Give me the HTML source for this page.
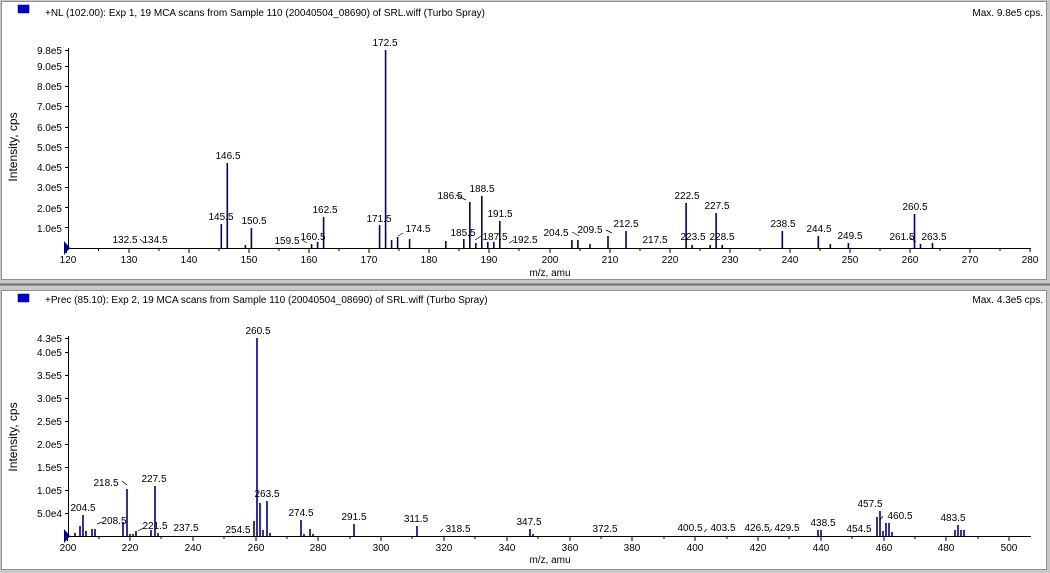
<!DOCTYPE html>
<html><head><meta charset="utf-8"><style>
html,body{margin:0;padding:0;background:#c0c0c0;}
svg{display:block;font-family:"Liberation Sans",Arial,sans-serif;}
</style></head><body>
<svg width="1050" height="573" xmlns="http://www.w3.org/2000/svg">
<rect x="0" y="0" width="1050" height="573" fill="#c8c8c8"/>
<line x1="0" y1="284.5" x2="1050" y2="284.5" stroke="#707070" stroke-width="2"/>
<rect x="1.5" y="1.5" width="1045" height="278" fill="#fff" stroke="#909090"/>
<rect x="1.5" y="290.5" width="1045" height="279" fill="#fff" stroke="#909090"/>

<!-- ===== TOP PANEL ===== -->
<rect x="18" y="5" width="11" height="8" fill="#0000c8" stroke="#000060" stroke-width="0.5"/>
<text x="45" y="16" font-size="10">+NL (102.00): Exp 1, 19 MCA scans from Sample 110 (20040504_08690) of SRL.wiff (Turbo Spray)</text>
<text x="1043" y="16" font-size="10" text-anchor="end">Max. 9.8e5 cps.</text>
<text transform="translate(17,147) rotate(-90)" font-size="12" text-anchor="middle">Intensity, cps</text>
<text x="550" y="276" font-size="10" text-anchor="middle">m/z, amu</text>
<g stroke="#000" stroke-width="1">
<line x1="68.5" y1="48" x2="68.5" y2="248"/>
<line x1="68" y1="248.5" x2="1031" y2="248.5"/>
</g>
<polygon points="64,241 70,248 64,255" fill="#000080"/>
<g font-size="10" text-anchor="end">
<text x="62" y="54">9.8e5</text><text x="62" y="70">9.0e5</text><text x="62" y="90">8.0e5</text>
<text x="62" y="110">7.0e5</text><text x="62" y="131">6.0e5</text><text x="62" y="151">5.0e5</text>
<text x="62" y="171">4.0e5</text><text x="62" y="191">3.0e5</text><text x="62" y="212">2.0e5</text>
<text x="62" y="232">1.0e5</text>
</g>
<g stroke="#000">
<path d="M65 50.5h4M65 66.5h4M65 86.5h4M65 106.5h4M65 127.5h4M65 147.5h4M65 167.5h4M65 187.5h4M65 207.5h4M65 227.5h4"/>
<path d="M66.5 248v5M129 248v5M189 248v5M249 248v5M309 248v5M369 248v5M429 248v5M489 248v5M550 248v5M610 248v5M670 248v5M730 248v5M790 248v5M850 248v5M910 248v5M970 248v5M1030 248v4"/>
<path d="M98.5 248v3M159 248v3M219 248v3M279 248v3M339 248v3M399 248v3M459 248v3M519 248v3M580 248v3M640 248v3M700 248v3M760 248v3M820 248v3M880 248v3M940 248v3M1000 248v3"/>
</g>
<g font-size="10" text-anchor="middle">
<text x="68" y="263">120</text><text x="129" y="263">130</text><text x="189" y="263">140</text><text x="249" y="263">150</text>
<text x="309" y="263">160</text><text x="369" y="263">170</text><text x="429" y="263">180</text><text x="489" y="263">190</text>
<text x="550" y="263">200</text><text x="610" y="263">210</text><text x="670" y="263">220</text><text x="730" y="263">230</text>
<text x="790" y="263">240</text><text x="850" y="263">250</text><text x="910" y="263">260</text><text x="970" y="263">270</text>
<text x="1030" y="263">280</text>
</g>
<g stroke="#000080" stroke-width="1.6">
<path d="M221.3 248V224M227.3 248V163M245.4 248V245M251.4 248V228M311.6 248V244M317.6 248V242M323.6 248V217M379.6 248V225M385.6 248V50M391.6 248V240M397.6 248V237M409.6 248V239M445.8 248V241M463.8 248V239M469.8 248V202M475.8 248V243M481.8 248V196M487.8 248V242M493.8 248V242M499.8 248V221M571.9 248V240M577.9 248V240M590 248V244M608 248V236M626 248V231M686.1 248V203M692.1 248V245M710.1 248V245M716.1 248V213M722.2 248V245M782.3 248V231M818.3 248V236M830.3 248V244M848.4 248V243M914.5 248V214M920.5 248V244M932.5 248V243"/>
</g>
<g font-size="10" text-anchor="middle">
<text x="221" y="220">145.5</text><text x="228" y="159">146.5</text><text x="254" y="224">150.5</text>
<text x="325" y="213">162.5</text><text x="379" y="222">171.5</text><text x="385" y="46">172.5</text>
<text x="418" y="232">174.5</text><text x="463" y="236">185.5</text><text x="450" y="199">186.5</text>
<text x="482" y="192">188.5</text><text x="500" y="217">191.5</text><text x="495" y="240">187.5</text>
<text x="525" y="243">192.5</text><text x="556" y="236">204.5</text><text x="590" y="233">209.5</text>
<text x="626" y="227">212.5</text><text x="655" y="243">217.5</text><text x="687" y="199">222.5</text>
<text x="693" y="240">223.5</text><text x="717" y="209">227.5</text><text x="722" y="240">228.5</text>
<text x="783" y="227">238.5</text><text x="819" y="232">244.5</text><text x="850" y="239">249.5</text>
<text x="915" y="210">260.5</text><text x="902" y="240">261.5</text><text x="934" y="240">263.5</text>
<text x="125" y="243">132.5</text><text x="155" y="243">134.5</text><text x="287" y="244">159.5</text><text x="313" y="240">160.5</text>
</g>
<g stroke="#000" stroke-width="0.7" fill="none">
<path d="M140 239l4 4M302 240l5 3M398 236l5-3M456 195l10 5M481 236l-6 4M509 243l5-3M572 232l7 4M606 230l6 3M909 237l7 5"/>
</g>

<!-- ===== BOTTOM PANEL ===== -->
<rect x="18" y="294" width="11" height="8" fill="#0000c8" stroke="#000060" stroke-width="0.5"/>
<text x="45" y="303" font-size="10">+Prec (85.10): Exp 2, 19 MCA scans from Sample 110 (20040504_08690) of SRL.wiff (Turbo Spray)</text>
<text x="1043" y="303" font-size="10" text-anchor="end">Max. 4.3e5 cps.</text>
<text transform="translate(17,437) rotate(-90)" font-size="12" text-anchor="middle">Intensity, cps</text>
<text x="550" y="563" font-size="10" text-anchor="middle">m/z, amu</text>
<g stroke="#000" stroke-width="1">
<line x1="68.5" y1="336" x2="68.5" y2="536"/>
<line x1="68" y1="536.5" x2="1031" y2="536.5"/>
</g>
<polygon points="64,529 70,536 64,543" fill="#000080"/>
<g font-size="10" text-anchor="end">
<text x="62" y="342">4.3e5</text><text x="62" y="356">4.0e5</text><text x="62" y="379">3.5e5</text>
<text x="62" y="402">3.0e5</text><text x="62" y="425">2.5e5</text><text x="62" y="448">2.0e5</text>
<text x="62" y="471">1.5e5</text><text x="62" y="494">1.0e5</text><text x="62" y="517">5.0e4</text>
</g>
<g stroke="#000">
<path d="M65 338.5h4M65 352.5h4M65 375.5h4M65 398.5h4M65 421.5h4M65 444.5h4M65 467.5h4M65 490.5h4M65 513.5h4"/>
<path d="M67.5 536v5M130 536v5M193 536v5M256 536v5M318 536v5M381 536v5M444 536v5M507 536v5M570 536v5M632 536v5M695 536v5M758 536v5M821 536v5M884 536v5M946 536v5M1009 536v5"/>
<path d="M99 536v3M161 536v3M224 536v3M287 536v3M350 536v3M412 536v3M475 536v3M538 536v3M601 536v3M664 536v3M727 536v3M789 536v3M852 536v3M915 536v3M978 536v3"/>
</g>
<g font-size="10" text-anchor="middle">
<text x="68" y="551">200</text><text x="130" y="551">220</text><text x="193" y="551">240</text><text x="256" y="551">260</text>
<text x="318" y="551">280</text><text x="381" y="551">300</text><text x="444" y="551">320</text><text x="507" y="551">340</text>
<text x="570" y="551">360</text><text x="632" y="551">380</text><text x="695" y="551">400</text><text x="758" y="551">420</text>
<text x="821" y="551">440</text><text x="884" y="551">460</text><text x="946" y="551">480</text><text x="1009" y="551">500</text>
</g>
<g stroke="#000080" stroke-width="1.6">
<path d="M75 536V533M80 536V526M83 536V515M86 536V531M92 536V529M95 536V529M123 536V522M127 536V489M130 536V534M133 536V534M136 536V531M151 536V530M155 536V486M158 536V533M254 536V521M257 536V338M260 536V503M263 536V530M267 536V501M270 536V533M301 536V520M304 536V534M310 536V529M313 536V534M354 536V524M417 536V526M530 536V529M533 536V534M818 536V530M821 536V530M877 536V517M880 536V511M883 536V531M886 536V523M889 536V523M892 536V532M955 536V530M958 536V525M961 536V530M964 536V530"/>
</g>
<g font-size="10" text-anchor="middle">
<text x="83" y="511">204.5</text><text x="114" y="524">208.5</text><text x="106" y="486">218.5</text>
<text x="154" y="482">227.5</text><text x="155" y="529">221.5</text><text x="186" y="531">237.5</text>
<text x="238" y="533">254.5</text><text x="258" y="334">260.5</text><text x="267" y="497">263.5</text>
<text x="301" y="516">274.5</text><text x="354" y="520">291.5</text><text x="416" y="522">311.5</text>
<text x="458" y="532">318.5</text><text x="529" y="525">347.5</text><text x="605" y="532">372.5</text>
<text x="690" y="531">400.5</text><text x="723" y="531">403.5</text><text x="757" y="531">426.5</text>
<text x="787" y="531">429.5</text><text x="823" y="526">438.5</text><text x="859" y="532">454.5</text>
<text x="870" y="507">457.5</text><text x="900" y="519">460.5</text><text x="953" y="521">483.5</text>
</g>
<g stroke="#000" stroke-width="0.7" fill="none">
<path d="M97 524l5-2M122 481l5 4M138 531l5-3M440 532l3-3M704 532l3-3M769 532l3-3M880 520l3-4"/>
</g>
</svg>
</body></html>
